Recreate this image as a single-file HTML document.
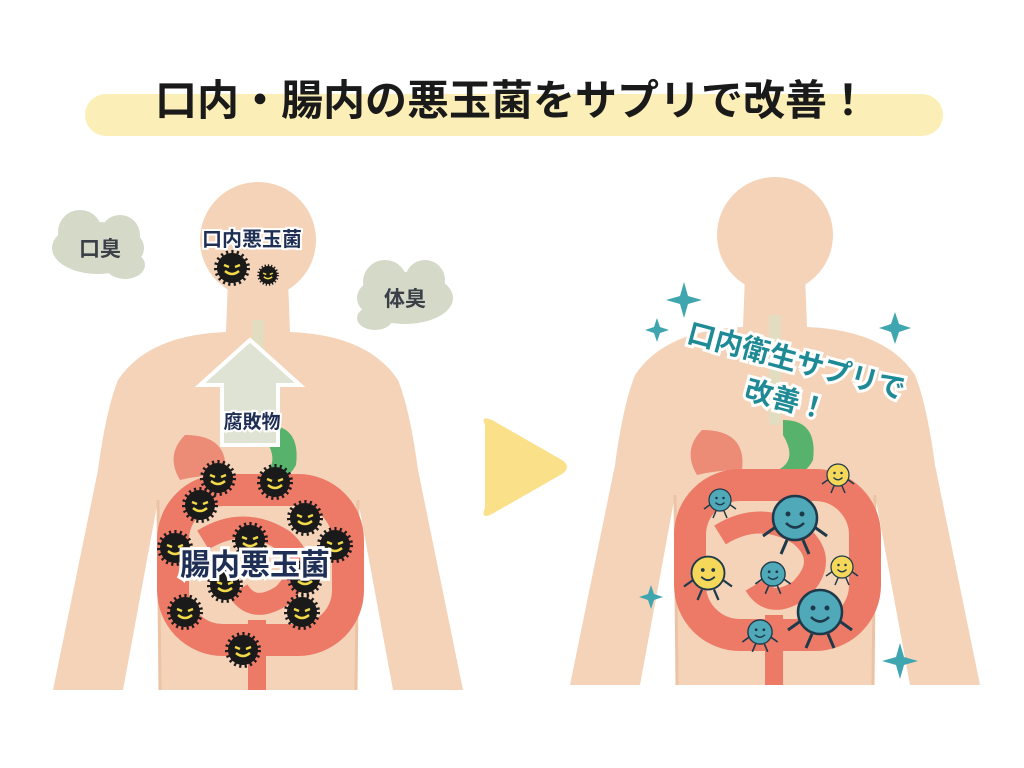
<!DOCTYPE html>
<html><head><meta charset="utf-8"><style>
html,body{margin:0;padding:0;background:#fff;width:1024px;height:768px;overflow:hidden}
svg{display:block}
text{font-family:"Liberation Sans","Noto Sans CJK JP",sans-serif;font-weight:bold}
</style></head><body>
<svg width="1024" height="768" viewBox="0 0 1024 768">
<defs>
<g id="bug">
 <circle r="15" fill="#1a1a1a" stroke="#1a1a1a" stroke-width="6" stroke-dasharray="2 3"/>
 <path d="M-8,-3 l5,2 M8,-3 l-5,2" stroke="#f2d94a" stroke-width="2.5"/>
 <path d="M-7,3 q7,6 14,0" stroke="#f2d94a" stroke-width="2.5" fill="none"/>
</g>
<g id="smt">
 <path d="M-18,8 l-14,10 M18,8 l14,10 M-8,22 l-6,14 M8,22 l6,14" stroke="#1e3a4a" stroke-width="3" fill="none"/>
 <circle r="22" fill="#4fa9b8" stroke="#1e3a4a" stroke-width="2.5"/>
 <circle cx="-7" cy="-4" r="2.5" fill="#1e3a4a"/><circle cx="7" cy="-4" r="2.5" fill="#1e3a4a"/>
 <path d="M-9,5 q9,9 18,0" stroke="#1e3a4a" stroke-width="2.5" fill="none"/>
</g>
<g id="smy">
 <path d="M-18,8 l-14,10 M18,8 l14,10 M-8,22 l-6,14 M8,22 l6,14" stroke="#1e3a4a" stroke-width="3" fill="none"/>
 <circle r="22" fill="#f5d85a" stroke="#1e3a4a" stroke-width="2.5"/>
 <circle cx="-7" cy="-4" r="2.5" fill="#1e3a4a"/><circle cx="7" cy="-4" r="2.5" fill="#1e3a4a"/>
 <path d="M-9,5 q9,9 18,0" stroke="#1e3a4a" stroke-width="2.5" fill="none"/>
</g>
<g id="body">
 <circle cx="0" cy="0" r="58" fill="#f4d3b8"/>
 <path d="M-30,40 L30,40 L32,92 Q110,95 140,140 Q152,170 160,230 L205,450 L135,450 L100,260 L98,450 L-98,450 L-100,260 L-135,450 L-205,450 L-160,230 Q-152,170 -140,140 Q-110,95 -32,92 Z" fill="#f4d3b8"/>
 <path d="M100,260 L98,450 M-100,260 L-98,450" stroke="#ecc3a4" stroke-width="3"/>
 <rect x="-6" y="80" width="12" height="110" fill="#e2ddc0"/>
 <path d="M-73,195 q-20,20 -5,45 q20,-5 45,-5 q5,-40 -40,-40z" fill="#ec8b76"/>
 <path d="M8,185 q35,0 30,40 q-10,20 -45,25 l-10,10 q-5,-20 20,-25 q20,-10 5,-35z" fill="#57b36c"/>
 <rect x="-85" y="250" width="175" height="150" rx="50" fill="none" stroke="#ec7a67" stroke-width="32"/>
 <path d="M-55,300 q40,-25 80,0 q30,25 0,55 q-30,20 -45,-5" fill="none" stroke="#ec7a67" stroke-width="22"/>
 <rect x="-10" y="380" width="18" height="70" fill="#ec7a67"/>
</g>
</defs>

<rect x="85" y="94" width="858" height="42" rx="21" fill="#fbefb7"/>
<text x="512" y="115" font-size="42" text-anchor="middle" fill="#1a1a1a">口内・腸内の悪玉菌をサプリで改善！</text>

<use href="#body" x="258" y="240"/>
<use href="#body" x="775" y="235"/>

<!-- clouds -->
<g fill="#d5d9c8">
 <ellipse cx="98" cy="248" rx="46" ry="26"/><circle cx="80" cy="232" r="22"/><circle cx="120" cy="235" r="20"/><ellipse cx="125" cy="265" rx="20" ry="14"/>
 <ellipse cx="405" cy="298" rx="48" ry="26"/><circle cx="385" cy="282" r="22"/><circle cx="425" cy="280" r="20"/><ellipse cx="375" cy="318" rx="18" ry="12"/>
</g>
<text x="100" y="256" font-size="21" text-anchor="middle" fill="#3a3f48">口臭</text>
<text x="405" y="306" font-size="21" text-anchor="middle" fill="#3a3f48">体臭</text>

<text x="252" y="246" font-size="20" text-anchor="middle" fill="#1f2f55" stroke="#fff" stroke-width="4" paint-order="stroke">口内悪玉菌</text>
<use href="#bug" x="232" y="268"/><use href="#bug" x="268" y="275" transform="translate(268 275) scale(.6) translate(-268 -275)"/>

<!-- arrow -->
<path d="M250,340 L300,385 L278,385 L278,445 L222,445 L222,385 L200,385 Z" fill="#dfe3d3" stroke="#fff" stroke-width="4"/>
<text x="252" y="428" font-size="19" text-anchor="middle" fill="#1f2f55" stroke="#fff" stroke-width="4" paint-order="stroke">腐敗物</text>

<use href="#bug" x="200" y="505"/><use href="#bug" x="218" y="478"/><use href="#bug" x="275" y="482"/><use href="#bug" x="305" y="518"/>
<use href="#bug" x="175" y="548"/><use href="#bug" x="335" y="545"/><use href="#bug" x="250" y="540"/><use href="#bug" x="225" y="585"/>
<use href="#bug" x="305" y="578"/><use href="#bug" x="185" y="612"/><use href="#bug" x="302" y="612"/><use href="#bug" x="243" y="650"/>
<text x="255" y="575" font-size="30" text-anchor="middle" fill="#1f2f55" stroke="#fff" stroke-width="6" paint-order="stroke">腸内悪玉菌</text>

<!-- play -->
<path d="M485,425 Q480,415 492,420 L562,460 Q572,467 562,474 L492,514 Q480,520 485,508 Z" fill="#fbe08a"/>

<!-- right side -->
<g transform="rotate(15 790 385)">
<text x="790" y="370" font-size="28" text-anchor="middle" fill="#1e8a96" stroke="#fff" stroke-width="6" paint-order="stroke">口内衛生サプリで</text>
<text x="790" y="410" font-size="28" text-anchor="middle" fill="#1e8a96" stroke="#fff" stroke-width="6" paint-order="stroke">改善！</text>
</g>
<g fill="#3fa6b0">
 <path d="M684,282 l4,14 14,4 -14,4 -4,14 -4,-14 -14,-4 14,-4z"/>
 <path d="M657,318 l3,9 9,3 -9,3 -3,9 -3,-9 -9,-3 9,-3z"/>
 <path d="M895,312 l4,12 12,4 -12,4 -4,12 -4,-12 -12,-4 12,-4z"/>
 <path d="M651,585 l3,9 9,3 -9,3 -3,9 -3,-9 -9,-3 9,-3z"/>
 <path d="M900,643 l4,14 14,4 -14,4 -4,14 -4,-14 -14,-4 14,-4z"/>
</g>
<use href="#smt" x="795" y="518"/>
<use href="#smt" x="820" y="612"/>
<g transform="translate(708 573) scale(.75)"><use href="#smy"/></g>
<g transform="translate(838 475) scale(.5)"><use href="#smy"/></g>
<g transform="translate(842 567) scale(.5)"><use href="#smy"/></g>
<g transform="translate(720 500) scale(.5)"><use href="#smt"/></g>
<g transform="translate(773 574) scale(.55)"><use href="#smt"/></g>
<g transform="translate(760 632) scale(.55)"><use href="#smt"/></g>
</svg>
</body></html>
